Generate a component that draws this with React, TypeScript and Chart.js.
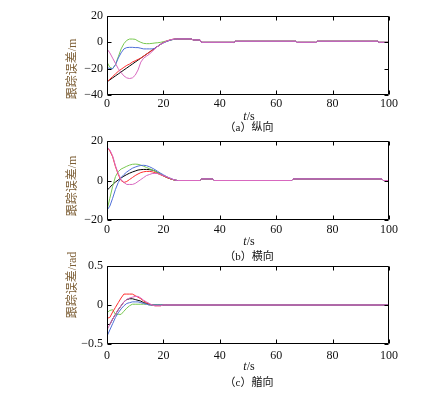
import React, { useEffect, useRef } from "react";
import { Chart, registerables } from "chart.js";

Chart.register(...registerables);

// ---------- shared ----------
const xTickValues = [0, 20, 40, 60, 80, 100];
const seriesNames = ["black", "red", "green", "blue", "pink"];
const seriesColors = ["#000000", "#ff2d2d", "#78c850", "#4f6fd8", "#d868bf"];

// ---------- (a) 纵向 ----------
const timeLon = [
  0, 1, 2, 3, 4, 5, 6, 7, 8, 9, 10, 11, 12, 13, 14, 15, 16, 17, 18, 19, 20, 21, 22, 23, 24, 25,
  30, 30.5, 33, 33.5, 45, 45.5, 67, 67.5, 74, 74.5, 96, 96.5, 100,
];
const lonTail = [2.6, 1.8, 1.8, 0, 0, 0.8, 0.8, 0, 0, 0.8, 0.8, 0, 0];
const lonBlack = [-30, -28.5, -27, -25.5, -24, -22.5, -21, -19.5, -18, -16.5, -15, -13.5, -12, -10.5, -9, -7.5, -6, -4.5, -3, -1.5, 0, 0.7, 1.4, 2, 2.4, 2.6, ...lonTail];
const lonRed = [-30, -28, -26, -24, -22, -20.5, -19, -17.5, -16.5, -15, -14, -13, -12, -10.5, -9, -7.5, -6, -4.5, -3, -1.5, -0.3, 0.8, 1.6, 2.2, 2.5, 2.6, ...lonTail];
const lonGreen = [-15, -19, -20, -17, -11, -5, -1, 1.5, 2.5, 2.5, 2.3, 1, 0, -0.8, -1, -1, -0.8, -0.5, -0.3, 0, 0.5, 1, 1.5, 2, 2.4, 2.6, ...lonTail];
const lonBlue = [-19, -20, -20, -17, -12, -8, -5, -4, -3.8, -3.8, -4, -4, -4.5, -5, -5, -5, -5, -4.5, -3, -1.5, -0.5, 0.5, 1.3, 2, 2.4, 2.6, ...lonTail];
const lonPink = [-5, -8, -12, -16, -20, -23, -25.5, -27, -27.5, -27, -25, -21, -15, -12, -10.5, -9, -7, -5, -3, -1.5, -0.3, 0.8, 1.6, 2.2, 2.5, 2.6, ...lonTail];
const lonYTicks = [-40, -20, 0, 20];

// ---------- (b) 横向 ----------
const timeLat = [
  0, 1, 2, 3, 4, 5, 6, 7, 8, 9, 10, 11, 12, 13, 14, 15, 16, 17, 18, 19, 20, 21, 22, 23, 24, 25,
  33, 33.5, 37.5, 38, 65.5, 66, 97.5, 98, 100,
];
const latTail = [0, 0.8, 0.8, 0, 0, 0.8, 0.8, 0, 0];
const latBlack = [-5, -3.5, -2, -0.8, 0.3, 1.3, 2.2, 3, 3.7, 4.3, 4.8, 5.3, 5.5, 5.6, 5.6, 5.5, 5.3, 4.8, 4, 3.2, 2.4, 1.7, 1.1, 0.6, 0.2, 0, ...latTail];
const latRed = [17, 15, 12, 7, 3, 0, -1, -0.5, 0.5, 1.5, 2.5, 3.3, 4, 4.4, 4.6, 4.6, 4.4, 4, 3.5, 2.9, 2.3, 1.7, 1.1, 0.6, 0.2, 0, ...latTail];
const latGreen = [-15, -9, -3, 2, 4.5, 5.8, 6.5, 7.2, 7.8, 8.2, 8.3, 8.2, 7.8, 7.2, 6.6, 6, 5.4, 4.7, 4, 3.2, 2.4, 1.7, 1.1, 0.6, 0.2, 0, ...latTail];
const latBlue = [-15, -13, -9, -4.5, -1, 1.5, 3, 4.3, 5.3, 6.2, 6.8, 7.3, 7.6, 7.7, 7.5, 7, 6.3, 5.5, 4.6, 3.7, 2.9, 2.1, 1.4, 0.8, 0.3, 0, ...latTail];
const latPink = [17, 15.5, 12.5, 7.5, 3.5, 0.5, -1, -2, -2, -2, -1.5, -0.5, 0.5, 1.5, 2.5, 3, 3.5, 3.6, 3.5, 3, 2.5, 2, 1.4, 0.8, 0.3, 0, ...latTail];
const latYTicks = [-20, 0, 20];

// ---------- (c) 艏向 ----------
const timeHead = [
  0, 1, 2, 3, 4, 5, 6, 7, 8, 9, 10, 11, 12, 13, 14, 15, 16, 17, 18, 19, 20, 21, 100,
];
const headBlack = [-0.25, -0.25, -0.18, -0.12, -0.06, -0.01, 0.04, 0.07, 0.08, 0.08, 0.07, 0.06, 0.05, 0.03, 0.02, 0.01, 0, 0, 0, 0, 0, 0, 0];
const headRed = [-0.17, -0.16, -0.09, -0.03, 0.03, 0.09, 0.14, 0.14, 0.14, 0.14, 0.12, 0.1, 0.08, 0.05, 0.03, 0.01, 0, -0.01, -0.01, -0.01, 0, 0, 0];
const headGreen = [-0.1, -0.07, -0.06, -0.12, -0.12, -0.12, -0.08, -0.04, -0.01, 0.01, 0.01, 0.01, 0.01, 0.01, 0.01, 0, 0, 0, 0, 0, 0, 0, 0];
const headBlue = [-0.4, -0.32, -0.24, -0.16, -0.1, -0.05, -0.01, 0.02, 0.03, 0.04, 0.04, 0.04, 0.03, 0.02, 0.01, 0, 0, 0, 0, 0, 0, 0, 0];
const headPink = [-0.32, -0.25, -0.18, -0.12, -0.06, -0.01, 0.04, 0.07, 0.09, 0.1, 0.11, 0.11, 0.09, 0.06, 0.04, 0.02, 0, -0.01, -0.01, -0.01, 0, 0, 0];
const headYTicks = [-0.5, 0, 0.5];

const fmt = (v: number) => (v < 0 ? "\u2212" + String(Math.abs(v)) : String(v));

const framePlugin = {
  id: "frame",
  afterDatasetsDraw(chart: any) {
    const { ctx, chartArea, scales } = chart;
    const l = Math.round(chartArea.left) + 0.5;
    const r = Math.round(chartArea.right) - 0.5;
    const t = Math.round(chartArea.top) + 0.5;
    const b = Math.round(chartArea.bottom) - 0.5;
    const len = 4;
    ctx.save();
    ctx.strokeStyle = "#000";
    ctx.lineWidth = 1;
    ctx.beginPath();
    ctx.rect(l, t, r - l, b - t);
    for (const tk of scales.x.ticks) {
      const px = Math.round(scales.x.getPixelForValue(tk.value)) + 0.5;
      ctx.moveTo(px, b);
      ctx.lineTo(px, b - len);
      ctx.moveTo(px, t);
      ctx.lineTo(px, t + len);
    }
    for (const tk of scales.y.ticks) {
      const py = Math.round(scales.y.getPixelForValue(tk.value)) + 0.5;
      ctx.moveTo(l, py);
      ctx.lineTo(l + len, py);
      ctx.moveTo(r, py);
      ctx.lineTo(r - len, py);
    }
    ctx.stroke();
    ctx.restore();
  },
};

type Panel = {
  time: number[];
  series: number[][];
  yMin: number;
  yMax: number;
  yTicks: number[];
  top: number;
  height: number;
  padTop: number;
  xAxisH: number;
  xPad: number;
};

const ORDER = [4, 2, 3, 1, 0];
const tickFont = { family: "'Liberation Serif', 'Times New Roman', serif", size: 12 };

function PanelChart({ p }: { p: Panel }) {
  const ref = useRef<HTMLCanvasElement | null>(null);
  useEffect(() => {
    if (!ref.current) return;
    const chart = new Chart(ref.current, {
      type: "line",
      data: {
        datasets: p.series.map((vals, si) => ({
          label: seriesNames[si],
          data: p.time.map((t, i) => ({ x: t, y: vals[i] })),
          borderColor: seriesColors[si],
          backgroundColor: seriesColors[si],
          borderWidth: 1,
          pointRadius: 0,
          fill: false,
          tension: 0,
          order: ORDER[si],
        })),
      },
      options: {
        responsive: false,
        animation: false,
        devicePixelRatio: 1,
        events: [],
        layout: { padding: { top: p.padTop, right: 40, left: 0, bottom: 0 } },
        plugins: { legend: { display: false }, tooltip: { enabled: false } },
        scales: {
          x: {
            type: "linear",
            position: "bottom",
            min: 0,
            max: 100,
            grid: { display: false, drawTicks: false },
            border: { display: false },
            ticks: { padding: p.xPad, font: tickFont, color: "#111", autoSkip: false, maxRotation: 0, callback: (v: any) => fmt(Number(v)) },
            afterBuildTicks: (s: any) => {
              s.ticks = xTickValues.map((v) => ({ value: v }));
            },
            afterFit: (s: any) => {
              s.height = p.xAxisH;
            },
          },
          y: {
            type: "linear",
            position: "left",
            min: p.yMin,
            max: p.yMax,
            grid: { display: false, drawTicks: false },
            border: { display: false },
            ticks: { padding: 4, font: tickFont, color: "#111", autoSkip: false, callback: (v: any) => fmt(Number(v)) },
            afterBuildTicks: (s: any) => {
              s.ticks = p.yTicks.map((v) => ({ value: v }));
            },
            afterFit: (s: any) => {
              s.width = 107;
            },
          },
        },
      } as any,
      plugins: [framePlugin],
    });
    return () => chart.destroy();
  }, [p]);
  return (
    <canvas
      ref={ref}
      width={429}
      height={p.height}
      style={{ position: "absolute", left: 0, top: p.top, width: 429, height: p.height }}
    />
  );
}

const panels: Panel[] = [
  { time: timeLon, series: [lonBlack, lonRed, lonGreen, lonBlue, lonPink], yMin: -40, yMax: 20, yTicks: lonYTicks, top: 0, height: 112, padTop: 16, xAxisH: 17, xPad: 2 },
  { time: timeLat, series: [latBlack, latRed, latGreen, latBlue, latPink], yMin: -20, yMax: 20, yTicks: latYTicks, top: 125, height: 112, padTop: 16, xAxisH: 17, xPad: 3 },
  { time: timeHead, series: [headBlack, headRed, headGreen, headBlue, headPink], yMin: -0.5, yMax: 0.5, yTicks: headYTicks, top: 250, height: 112, padTop: 16, xAxisH: 18, xPad: 5 },
];

const labels = [
  { yTitle: "跟踪误差", unit: "/m", yTitleY: 68.5, tY: 116, cY: 127, caption: "（a）纵向" },
  { yTitle: "跟踪误差", unit: "/m", yTitleY: 186, tY: 241, cY: 256, caption: "（b）横向" },
  { yTitle: "跟踪误差", unit: "/rad", yTitleY: 285, tY: 366, cY: 382, caption: "（c）艏向" },
];

const serif = "'Liberation Serif', 'Times New Roman', serif";
const cjk = "'Noto Sans CJK SC', sans-serif";

export default function App() {
  return (
    <div style={{ position: "absolute", left: 0, top: 0, width: 429, height: 393, background: "#fff", overflow: "hidden" }}>
      {panels.map((p, i) => (
        <PanelChart key={i} p={p} />
      ))}
      {labels.map((l, i) => (
        <React.Fragment key={"l" + i}>
          <div
            style={{
              position: "absolute",
              left: 71,
              top: l.yTitleY,
              transform: "translate(-50%, -50%) rotate(-90deg)",
              whiteSpace: "nowrap",
              fontSize: 12,
              lineHeight: "14px",
              color: "#7d5f36",
              fontFamily: `${serif.split(",")[0]}, ${cjk}`,
            }}
          >
            <span style={{ fontFamily: cjk }}>{l.yTitle}</span>
            <span style={{ fontFamily: serif }}>{l.unit}</span>
          </div>
          <div
            style={{
              position: "absolute",
              left: 249,
              top: l.tY,
              transform: "translate(-50%, -50%)",
              whiteSpace: "nowrap",
              fontSize: 12,
              lineHeight: "14px",
              color: "#111",
              fontFamily: serif,
            }}
          >
            <i>t</i>/s
          </div>
          <div
            style={{
              position: "absolute",
              left: 249,
              top: l.cY,
              transform: "translate(-50%, -50%)",
              whiteSpace: "nowrap",
              fontSize: 11,
              lineHeight: "14px",
              color: "#111",
              fontFamily: `${serif.split(",")[0]}, ${cjk}`,
            }}
          >
            {l.caption}
          </div>
        </React.Fragment>
      ))}
    </div>
  );
}
